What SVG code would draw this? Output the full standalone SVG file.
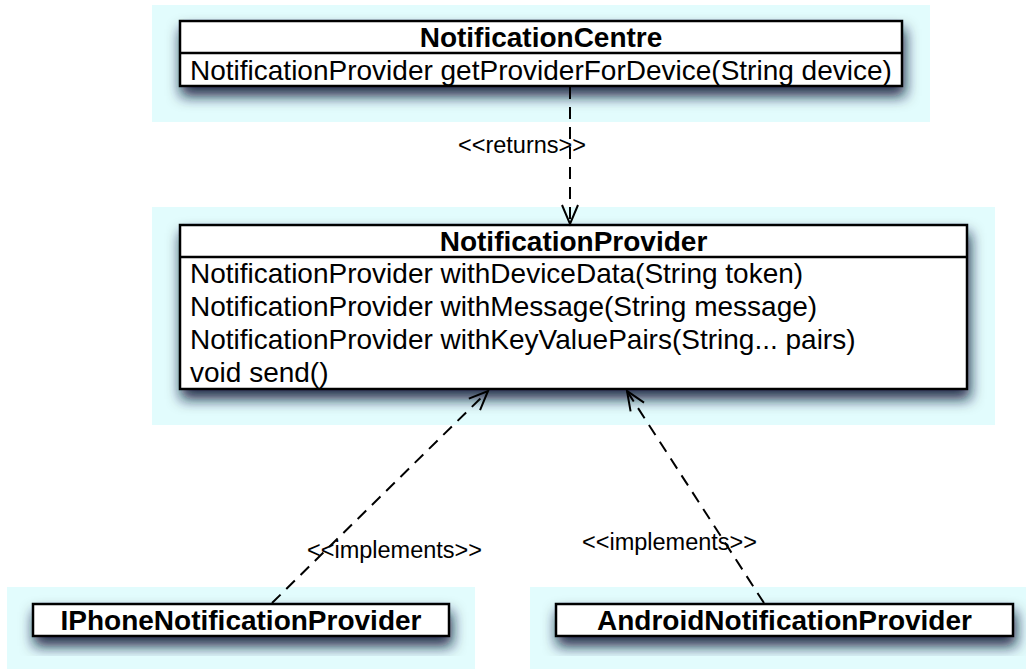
<svg xmlns="http://www.w3.org/2000/svg" width="1026" height="669" viewBox="0 0 1026 669">
  <defs>
    <style>
      .panel { fill: #e2fcfd; }
      .box { fill: #ffffff; stroke: #000000; stroke-width: 2.5; }
      .sep { stroke: #000000; stroke-width: 2.5; }
      .title { font-family: "Liberation Sans", Arial, Helvetica, sans-serif; font-size: 28px; font-weight: bold; fill: #000000; text-anchor: middle; }
      .member { font-family: "Liberation Sans", Arial, Helvetica, sans-serif; font-size: 28px; fill: #000000; }
      .label { font-family: "Liberation Sans", Arial, Helvetica, sans-serif; font-size: 23.5px; fill: #000000; }
      .dep { fill: none; stroke: #000000; stroke-width: 2; stroke-dasharray: 12 8; }
    </style>
    <!-- soft drop shadow under each class box -->
    <filter id="shadow" x="-10%" y="-40%" width="125%" height="200%">
      <feDropShadow dx="2" dy="9" stdDeviation="7" flood-color="#0a1238" flood-opacity="0.9"/>
    </filter>
    <!-- open "V" arrowhead for dependency lines -->
    <marker id="open-arrow" markerWidth="24" markerHeight="24" refX="21" refY="12" orient="auto" markerUnits="userSpaceOnUse">
      <path d="M2,4 L21,12 L2,20" fill="none" stroke="#000000" stroke-width="2"/>
    </marker>
  </defs>

  <!-- NotificationCentre -->
  <g id="notification-centre">
    <rect class="panel" x="152" y="5" width="778" height="117"/>
    <rect class="box" x="180" y="21" width="722" height="65" filter="url(#shadow)"/>
    <line class="sep" x1="180" y1="53" x2="902" y2="53"/>
    <text class="title" x="541" y="47">NotificationCentre</text>
    <text class="member" x="190" y="80">NotificationProvider getProviderForDevice(String device)</text>
  </g>

  <!-- NotificationProvider -->
  <g id="notification-provider">
    <rect class="panel" x="152" y="207" width="843" height="218"/>
    <rect class="box" x="180" y="225" width="787" height="164" filter="url(#shadow)"/>
    <line class="sep" x1="180" y1="257" x2="967" y2="257"/>
    <text class="title" x="573.5" y="251">NotificationProvider</text>
    <text class="member" x="190" y="283">NotificationProvider withDeviceData(String token)</text>
    <text class="member" x="190" y="316">NotificationProvider withMessage(String message)</text>
    <text class="member" x="190" y="349">NotificationProvider withKeyValuePairs(String... pairs)</text>
    <text class="member" x="190" y="382">void send()</text>
  </g>

  <!-- IPhoneNotificationProvider -->
  <g id="iphone-provider">
    <rect class="panel" x="7" y="587" width="468" height="82"/>
    <rect class="box" x="33" y="604" width="416" height="32" filter="url(#shadow)"/>
    <text class="title" x="241" y="630">IPhoneNotificationProvider</text>
  </g>

  <!-- AndroidNotificationProvider -->
  <g id="android-provider">
    <rect class="panel" x="530" y="587" width="496" height="82"/>
    <rect class="box" x="556" y="604" width="457" height="32" filter="url(#shadow)"/>
    <text class="title" x="784.5" y="630">AndroidNotificationProvider</text>
  </g>

  <!-- Connectors -->
  <g id="connectors">
    <line class="dep" x1="570" y1="87" x2="570" y2="224" marker-end="url(#open-arrow)"/>
    <text class="label" x="458" y="153">&lt;&lt;returns&gt;&gt;</text>

    <line class="dep" x1="272" y1="603" x2="488" y2="391" marker-end="url(#open-arrow)"/>
    <text class="label" x="307" y="558">&lt;&lt;implements&gt;&gt;</text>

    <line class="dep" x1="764" y1="603" x2="627" y2="391" marker-end="url(#open-arrow)"/>
    <text class="label" x="582" y="550">&lt;&lt;implements&gt;&gt;</text>
  </g>
</svg>
